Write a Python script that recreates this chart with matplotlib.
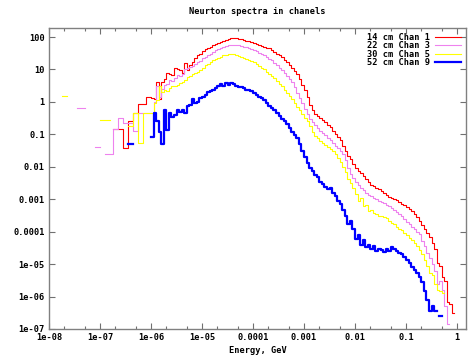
import numpy as np
import matplotlib
matplotlib.use("Agg")
import matplotlib.pyplot as plt
from matplotlib.ticker import FixedLocator, LogLocator, NullFormatter

N = np.nan

# 156 log bins, 20 per decade, from 10^-7.8 to 1 GeV
edges = np.logspace(-7.8, 0.0, 157)

labels = ["14 cm Chan 1", "22 cm Chan 3", "30 cm Chan 5", "52 cm Chan 9"]
colors = ["#ff0000", "#ee82ee", "#ffff00", "#0000ff"]
widths = [0.8, 0.8, 0.8, 1.6]

chan1 = [
    N, N, N, N, N, N, N, N, N, N,
    N, N, N, N, N, N, N, N, N, N,
    N, 0.145, 0.145, 0.145, 0.145, 0.037, 0.037, 0.25, 0.25, 0.45,
    0.45, 0.87, 0.87, 0.87, 1.4, 1.4, 1.35, 1.2, 4.2, 1.2,
    4.0, 5.0, 7.7, 7.2, 6.8, 10.9, 10, 9.5, 7.7, 15.6,
    9.7, 13.9, 17, 22, 27, 30, 36, 42, 46, 50,
    55, 60, 66, 72, 76, 83, 88, 92, 94, 93,
    88, 84, 80, 76, 74, 70, 65, 61, 58, 54,
    51, 47, 45, 40, 35, 31, 28, 24, 20, 17,
    14, 11.5, 9.0, 7.3, 5.2, 3.4, 2.3, 1.4, 0.8, 0.55,
    0.42, 0.36, 0.31, 0.27, 0.24, 0.2, 0.17, 0.13, 0.105, 0.085,
    0.065, 0.045, 0.03, 0.022, 0.017, 0.012, 0.0095, 0.0075, 0.0066, 0.0052,
    0.0042, 0.0034, 0.0028, 0.0026, 0.0023, 0.0020, 0.0018, 0.0016, 0.0014, 0.0012,
    0.0011, 0.001, 0.00095, 0.00082, 0.00072, 0.00065, 0.00058, 0.0005, 0.00043, 0.00035,
    0.00028, 0.00021, 0.00016, 0.00012, 9e-5, 7e-5, 4.5e-5, 3e-5, 1.1e-5, 9e-6,
    4e-6, 3e-6, 7e-7, 6e-7, 3.2e-7, N,
]

chan3 = [
    N, N, N, N, N, N, N, 0.65, 0.65, 0.65,
    N, N, N, N, 0.04, 0.04, N, N, 0.025, 0.025,
    0.025, 0.145, 0.145, 0.31, 0.31, 0.22, 0.22, 0.22, 0.22, 0.13,
    0.13, 0.45, 0.45, 0.45, 0.45, 0.45, 0.45, 1.0, 3.0, 1.4,
    2.5, 3.3, 3.5, 4.8, 4.5, 5.5, 6.8, 6.5, 7.5, 10,
    11, 12, 13, 15, 17, 18.5, 22, 25, 28, 31,
    35, 40, 43, 46, 50, 53, 55, 57, 58, 57,
    55, 53, 50, 48, 45, 42, 39, 36, 33, 30,
    27, 24, 21, 19, 16, 13.5, 11.5, 9.5, 8, 6.5,
    5.2, 4.0, 2.8, 1.9, 1.3, 0.9, 0.6, 0.42, 0.3, 0.24,
    0.2, 0.16, 0.13, 0.11, 0.095, 0.08, 0.066, 0.055, 0.045, 0.037,
    0.03, 0.024, 0.016, 0.009, 0.006, 0.0045, 0.0035, 0.0028, 0.0022, 0.0019,
    0.0016, 0.0014, 0.0013, 0.0011, 0.001, 0.0009, 0.00085, 0.00075, 0.00065, 0.0006,
    0.00052, 0.00046, 0.0004, 0.00035, 0.0003, 0.00025, 0.0002, 0.00017, 0.00014, 0.00012,
    0.0001, 8.5e-5, 5e-5, 3.5e-5, 2.2e-5, 1.5e-5, 1e-5, 6e-6, 2.5e-6, 3e-6,
    1.6e-6, 5e-7, 1.4e-7, N, N, N,
]

chan5 = [
    N, 1.5, 1.5, N, N, N, N, N, N, N,
    N, N, N, N, N, N, 0.28, 0.28, 0.28, 0.28,
    N, N, N, N, N, N, N, 0.18, 0.18, 0.45,
    0.45, 0.053, 0.053, 0.45, 0.45, 0.45, 0.45, 0.9, 1.15, 3.0,
    2.0, 2.35, 2.2, 2.6, 3.0, 3.0, 3.4, 3.8, 4.2, 4.8,
    5.8, 6.5, 7.2, 8.0, 8.6, 9.7, 11.5, 13.5, 15, 17,
    19, 21, 23, 25, 27, 28.5, 30, 31, 30, 28,
    26, 24.5, 23, 21.5, 20, 18.5, 16.5, 14.5, 13, 11.5,
    10, 8.5, 7.4, 6.3, 5.3, 4.4, 3.6, 3.0, 2.4, 1.9,
    1.5, 1.2, 0.9, 0.7, 0.55, 0.42, 0.32, 0.25, 0.18, 0.12,
    0.09, 0.075, 0.063, 0.055, 0.048, 0.042, 0.036, 0.03, 0.024, 0.019,
    0.014, 0.01, 0.007, 0.0042, 0.0032, 0.0022, 0.0015, 0.0009, 0.0011, 0.0006,
    0.00065, 0.00042, 0.00045, 0.00038, 0.00035, 0.00031, 0.0003, 0.00028, 0.00026, 0.00022,
    0.00019, 0.00017, 0.00014, 0.00012, 0.00011, 9e-5, 8e-5, 6.5e-5, 5.5e-5, 4.5e-5,
    3.5e-5, 2.7e-5, 2e-5, 1.3e-5, 9e-6, 5.5e-6, 4.5e-6, 2.5e-6, 1.6e-6, 1.5e-6,
    1.3e-6, N, N, N, N, N,
]

chan9 = [
    N, N, N, N, N, N, N, N, N, N,
    N, N, N, N, N, N, N, N, N, N,
    N, N, N, N, N, N, N, 0.05, 0.05, N,
    N, N, N, N, N, N, 0.085, 0.45, 0.25, 0.12,
    0.05, 0.55, 0.14, 0.45, 0.35, 0.4, 0.55, 0.5, 0.55, 0.45,
    0.75, 0.8, 1.2, 0.9, 1.0, 1.3, 1.4, 1.6, 2.0, 2.1,
    2.3, 2.7, 3.0, 3.5, 3.2, 3.7, 3.4, 3.8, 3.5, 3.1,
    2.9, 2.8, 2.6, 2.4, 2.25, 2.1, 1.9, 1.6, 1.4, 1.3,
    1.15, 0.95, 0.75, 0.65, 0.55, 0.45, 0.37, 0.3, 0.26, 0.21,
    0.16, 0.12, 0.095, 0.075, 0.05, 0.03, 0.02, 0.013, 0.0095, 0.0075,
    0.0055, 0.0048, 0.0035, 0.003, 0.0024, 0.002, 0.0022, 0.0016, 0.0013, 0.0009,
    0.0007, 0.00045, 0.0003, 0.00017, 0.00022, 0.00012, 6e-5, 8e-5, 4e-5, 5.5e-5,
    3.3e-5, 4e-5, 3e-5, 3.5e-5, 2.5e-5, 3e-5, 2.7e-5, 2.3e-5, 3e-5, 2.5e-5,
    3.3e-5, 3e-5, 2.5e-5, 2.2e-5, 2e-5, 1.6e-5, 1.3e-5, 1.05e-5, 8e-6, 6.5e-6,
    5.3e-6, 4e-6, 2.8e-6, 1.5e-6, 8e-7, 3.5e-7, 5e-7, 3.5e-7, N, 2.5e-7,
    N, N, N, N, N, N,
]

series = [chan1, chan3, chan5, chan9]

xticks = [1e-8, 1e-7, 1e-6, 1e-5, 1e-4, 1e-3, 1e-2, 1e-1, 1]
xticklabels = ["1e-08", "1e-07", "1e-06", "1e-05", "0.0001", "0.001", "0.01", "0.1", "1"]
yticks = [1e-7, 1e-6, 1e-5, 1e-4, 1e-3, 1e-2, 1e-1, 1, 10, 100]
yticklabels = ["1e-07", "1e-06", "1e-05", "0.0001", "0.001", "0.01", "0.1", "1", "10", "100"]

plt.rcParams['font.family'] = ['DejaVu Sans Mono']
plt.rcParams['font.weight'] = 'bold'
fs = 6.2

fig = plt.figure(figsize=(4.7, 3.58), dpi=100)
ax = fig.add_axes([49/470, 29/358, 417/470, 301/358])

for vals, lab, col, lw in zip(series, labels, colors, widths):
    y = np.append(np.array(vals, dtype=float), np.nan)
    ax.step(edges, y, where='post', color=col, lw=lw, label=lab)

ax.set_xscale('log')
ax.set_yscale('log')
ax.set_xlim(1e-8, 1.5)
ax.set_ylim(1e-7, 190)

ax.xaxis.set_major_locator(FixedLocator(xticks))
ax.set_xticklabels(xticklabels)
ax.xaxis.set_minor_locator(LogLocator(base=10, subs=(2.0, 5.0)))
ax.xaxis.set_minor_formatter(NullFormatter())
ax.yaxis.set_major_locator(FixedLocator(yticks))
ax.set_yticklabels(yticklabels)
ax.yaxis.set_minor_locator(FixedLocator([]))

ax.tick_params(which='both', direction='in', top=True, right=True,
               labelsize=fs, colors='#707070', labelcolor='black')
ax.tick_params(which='major', length=4, width=0.8, pad=3)
ax.tick_params(which='minor', length=2, width=0.8)
for s in ax.spines.values():
    s.set_color('#808080')
    s.set_linewidth(1.0)

ax.set_title("Neurton spectra in chanels", fontsize=fs, fontweight='bold', pad=10)
ax.set_xlabel("Energy, GeV", fontsize=fs, fontweight='bold')
ax.xaxis.set_label_coords(0.5, -0.058)

leg = ax.legend(loc='upper right', bbox_to_anchor=(1.0, 1.0), frameon=False,
                markerfirst=False, fontsize=fs, handlelength=3.0,
                handletextpad=0.6, labelspacing=-0.08, borderaxespad=0.3,
                borderpad=0.3)

fig.savefig("out.png", dpi=100)
